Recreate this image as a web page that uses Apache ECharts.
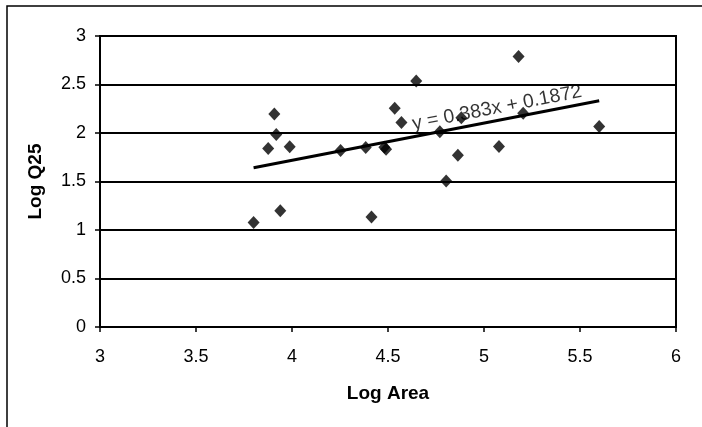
<!DOCTYPE html>
<html>
<head>
<meta charset="utf-8">
<script src="https://cdn.jsdelivr.net/npm/echarts@6/dist/echarts.min.js"></script>
<style>
html,body{margin:0;padding:0;background:#fff;}
#c{width:702px;height:427px;}
</style>
</head>
<body>
<div id="c"></div>
<script>
// Data
var logArea = [3.80, 3.876, 3.908, 3.918, 3.939, 3.988, 4.253, 4.384, 4.414, 4.481, 4.49, 4.535, 4.57, 4.647, 4.77, 4.803, 4.864, 4.882, 5.078, 5.18, 5.204, 5.60];
var logQ25 = [1.078, 1.84, 2.197, 1.984, 1.198, 1.857, 1.819, 1.850, 1.133, 1.854, 1.833, 2.255, 2.108, 2.537, 2.012, 1.504, 1.771, 2.156, 1.861, 2.788, 2.204, 2.067];
// Trendline y = 0.383x + 0.1872, drawn between x = 3.8 and x = 5.6
var trendX = [3.8, 5.6];
var trendY = [1.6426, 2.3320];
var trendText = 'y = 0.383x + 0.1872';
var trendTextPos = [5.068, 2.258];
var xTicks = [3, 3.5, 4, 4.5, 5, 5.5, 6];
var yTicks = [0, 0.5, 1, 1.5, 2, 2.5, 3];

var pts = logArea.map(function (x, i) { return [x, logQ25[i]]; });
var trend = trendX.map(function (x, i) { return [x, trendY[i]]; });

var chart = echarts.init(document.getElementById('c'));
var font = 'Liberation Sans, Arial, sans-serif';
chart.setOption({
  animation: false,
  backgroundColor: '#fff',
  graphic: [{
    type: 'polyline',
    shape: { points: [[7, 427], [7, 6], [702, 6]] },
    style: { stroke: '#000', lineWidth: 1.5, fill: null }
  }],
  grid: { left: 100, right: 26, top: 36, bottom: 100, show: true, borderColor: '#000', borderWidth: 2, backgroundColor: 'transparent' },
  xAxis: {
    type: 'value', min: 3, max: 6, interval: 0.5,
    name: 'Log Area', nameLocation: 'middle', nameGap: 57,
    nameTextStyle: { fontFamily: font, fontSize: 19, fontWeight: 'bold', color: '#000' },
    axisLine: { lineStyle: { color: '#000', width: 2 } },
    axisTick: { show: true, length: 5, lineStyle: { color: '#000', width: 1.5 } },
    axisLabel: { margin: 21, fontFamily: font, fontSize: 18, color: '#000',
      formatter: function (v) { return String(v); } },
    splitLine: { show: false }
  },
  yAxis: {
    type: 'value', min: 0, max: 3, interval: 0.5,
    name: 'Log Q25', nameLocation: 'middle', nameGap: 55,
    nameTextStyle: { fontFamily: font, fontSize: 19, fontWeight: 'bold', color: '#000' },
    axisLine: { show: true, lineStyle: { color: '#000', width: 2 } },
    axisTick: { show: true, length: 5, lineStyle: { color: '#000', width: 1.5 } },
    axisLabel: { margin: 14, fontFamily: font, fontSize: 18, color: '#000',
      formatter: function (v) { return String(v); } },
    splitLine: { show: true, lineStyle: { color: '#000', width: 2 } }
  },
  series: [
    {
      type: 'line', data: trend, symbol: 'none', silent: true,
      lineStyle: { color: '#000', width: 3 }, z: 3
    },
    {
      type: 'scatter', data: pts, symbol: 'diamond', symbolSize: [12, 13],
      itemStyle: { color: '#000' }, z: 4
    },
    {
      type: 'scatter', data: [trendTextPos], symbolSize: 0, silent: true, z: 5,
      label: { show: true, position: 'inside', rotate: 11, formatter: trendText,
        fontFamily: font, fontSize: 19.5, color: '#000' }
    }
  ]
});
</script>
</body>
</html>
